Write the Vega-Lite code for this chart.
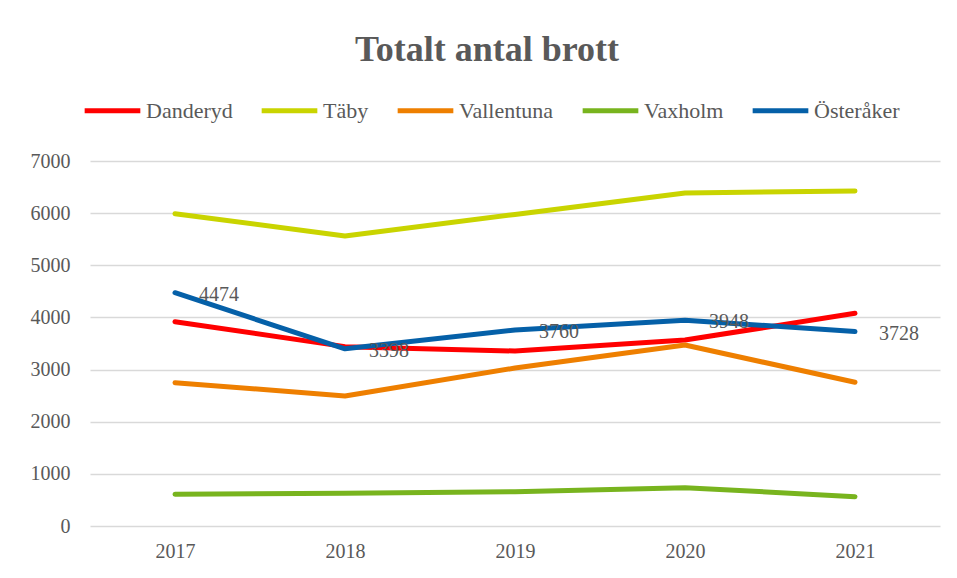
{
  "$schema": "https://vega.github.io/schema/vega-lite/v6.json",
  "autosize": {"type": "none"},
  "width": 850,
  "height": 365,
  "padding": {"left": 90, "top": 161, "right": 17, "bottom": 52},
  "background": "white",
  "title": {
    "text": "Totalt antal brott",
    "font": "Liberation Serif",
    "fontSize": 36,
    "fontWeight": "bold",
    "color": "#595959",
    "anchor": "middle",
    "dx": -28,
    "offset": 11
  },
  "config": {
    "view": {"stroke": null},
    "font": "Liberation Serif"
  },
  "data": {
    "values": [
      {"year": "2017", "kommun": "Danderyd", "antal": 3918},
      {"year": "2018", "kommun": "Danderyd", "antal": 3440},
      {"year": "2019", "kommun": "Danderyd", "antal": 3356},
      {"year": "2020", "kommun": "Danderyd", "antal": 3567},
      {"year": "2021", "kommun": "Danderyd", "antal": 4079},
      {"year": "2017", "kommun": "Täby", "antal": 5990},
      {"year": "2018", "kommun": "Täby", "antal": 5562},
      {"year": "2019", "kommun": "Täby", "antal": 5975},
      {"year": "2020", "kommun": "Täby", "antal": 6385},
      {"year": "2021", "kommun": "Täby", "antal": 6425},
      {"year": "2017", "kommun": "Vallentuna", "antal": 2749},
      {"year": "2018", "kommun": "Vallentuna", "antal": 2493},
      {"year": "2019", "kommun": "Vallentuna", "antal": 3030},
      {"year": "2020", "kommun": "Vallentuna", "antal": 3471},
      {"year": "2021", "kommun": "Vallentuna", "antal": 2756},
      {"year": "2017", "kommun": "Vaxholm", "antal": 608},
      {"year": "2018", "kommun": "Vaxholm", "antal": 630},
      {"year": "2019", "kommun": "Vaxholm", "antal": 658},
      {"year": "2020", "kommun": "Vaxholm", "antal": 735},
      {"year": "2021", "kommun": "Vaxholm", "antal": 562},
      {"year": "2017", "kommun": "Österåker", "antal": 4474},
      {"year": "2018", "kommun": "Österåker", "antal": 3398},
      {"year": "2019", "kommun": "Österåker", "antal": 3760},
      {"year": "2020", "kommun": "Österåker", "antal": 3948},
      {"year": "2021", "kommun": "Österåker", "antal": 3728}
    ]
  },
  "encoding": {
    "x": {
      "field": "year",
      "type": "ordinal",
      "scale": {"type": "point", "padding": 0.5},
      "axis": {
        "title": null,
        "labelAngle": 0,
        "labelFont": "Liberation Serif",
        "labelFontSize": 20,
        "labelColor": "#595959",
        "labelPadding": 15,
        "ticks": false,
        "domain": false,
        "grid": false
      }
    },
    "y": {
      "field": "antal",
      "type": "quantitative",
      "scale": {"domain": [0, 7000], "nice": false},
      "axis": {
        "title": null,
        "values": [0, 1000, 2000, 3000, 4000, 5000, 6000, 7000],
        "format": "d",
        "labelFont": "Liberation Serif",
        "labelFontSize": 20,
        "labelColor": "#595959",
        "labelPadding": 20,
        "ticks": false,
        "domain": false,
        "gridColor": "#d9d9d9",
        "gridWidth": 1.5
      }
    }
  },
  "layer": [
    {
      "mark": {"type": "line", "strokeWidth": 5, "strokeCap": "round", "strokeJoin": "round"},
      "encoding": {
        "color": {
          "field": "kommun",
          "type": "nominal",
          "scale": {
            "domain": ["Danderyd", "Täby", "Vallentuna", "Vaxholm", "Österåker"],
            "range": ["#ff0000", "#c9d400", "#ee7f00", "#78b41e", "#0560a8"]
          },
          "legend": {
            "title": null,
            "orient": "none",
            "direction": "horizontal",
            "legendX": -8,
            "legendY": -81,
            "symbolType": "stroke",
            "symbolSize": 3100,
            "symbolStrokeWidth": 5,
            "labelFont": "Liberation Serif",
            "labelFontSize": 22,
            "labelColor": "#595959",
            "labelOffset": 3,
            "columnPadding": 18,
            "labelLimit": 300
          }
        }
      }
    },
    {
      "transform": [{"filter": "datum.kommun === 'Österåker'"}],
      "mark": {
        "type": "text",
        "align": "left",
        "baseline": "middle",
        "dx": 24,
        "dy": 2,
        "font": "Liberation Serif",
        "fontSize": 20,
        "color": "#595959"
      },
      "encoding": {
        "text": {"field": "antal", "type": "quantitative", "format": "d"}
      }
    }
  ]
}
